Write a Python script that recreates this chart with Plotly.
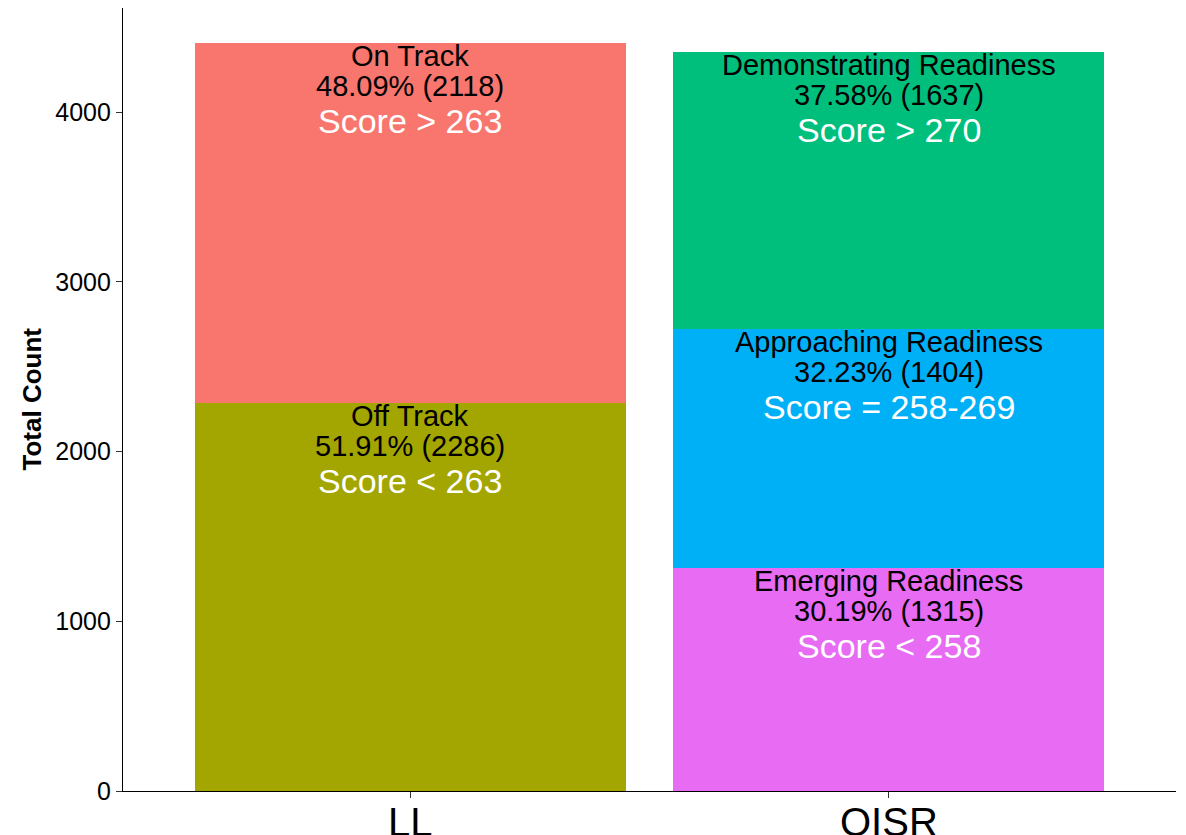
import plotly.graph_objects as go

# Data
groups = ["LL", "LL", "OISR", "OISR", "OISR"]
levels = ["Off Track", "On Track", "Emerging Readiness", "Approaching Readiness", "Demonstrating Readiness"]
counts = [2286, 2118, 1315, 1404, 1637]
score_labels = ["Score < 263", "Score > 263", "Score < 258", "Score = 258-269", "Score > 270"]
colors = ["#A3A500", "#F8766D", "#E76BF3", "#00B0F6", "#00BF7D"]
categories = ["LL", "OISR"]
y_ticks = [0, 1000, 2000, 3000, 4000]

FONT = "Liberation Sans, Arial, sans-serif"

fig = go.Figure()
for g, lvl, c, col in zip(groups, levels, counts, colors):
    fig.add_trace(go.Bar(x=[g], y=[c], name=lvl, marker=dict(color=col, line=dict(width=0)),
                         width=0.9, showlegend=False, hoverinfo="x+y+name"))

totals = {cat: sum(c for g, c in zip(groups, counts) if g == cat) for cat in categories}
cum = {cat: 0 for cat in categories}
annotations = []
for g, lvl, c, sc in zip(groups, levels, counts, score_labels):
    cum[g] += c
    top = cum[g]
    pct = 100 * c / totals[g]
    annotations.append(dict(x=g, y=top, xref="x", yref="y", text=lvl, showarrow=False,
                            yanchor="middle", yshift=-13, font=dict(family=FONT, size=29, color="black")))
    annotations.append(dict(x=g, y=top, xref="x", yref="y", text=f"{pct:.2f}% ({c})", showarrow=False,
                            yanchor="middle", yshift=-43, font=dict(family=FONT, size=29, color="black")))
    annotations.append(dict(x=g, y=top, xref="x", yref="y", text=sc, showarrow=False,
                            yanchor="middle", yshift=-78, font=dict(family=FONT, size=34, color="white")))

# category labels under the x axis
for cat in categories:
    annotations.append(dict(x=cat, y=0, xref="x", yref="paper", text=cat, showarrow=False,
                            yanchor="middle", xanchor="center", yshift=-31,
                            font=dict(family=FONT, size=40, color="black")))

annotations.append(dict(x=0, y=0.5, xref="paper", yref="paper", text="<b>Total Count</b>",
                        showarrow=False, textangle=-90, xanchor="center", yanchor="middle",
                        xshift=-92, font=dict(family=FONT, size=26, color="black")))

fig.update_layout(
    barmode="stack",
    width=1170, height=827,
    margin=dict(l=115, r=2, t=0, b=44, pad=0),
    paper_bgcolor="white", plot_bgcolor="white",
    annotations=annotations,
    font=dict(family=FONT, color="black"),
)
fig.update_xaxes(
    type="category", categoryorder="array", categoryarray=categories,
    range=[-0.6, 1.6], showline=True, linecolor="black", linewidth=1.2,
    ticks="outside", ticklen=6, tickcolor="#333333", tickwidth=1.2,
    showticklabels=False, showgrid=False, zeroline=False,
    automargin=False,
)
fig.update_yaxes(
    range=[0, 4613], tickvals=y_ticks, showline=True, linecolor="black", linewidth=1.2,
    ticks="outside", ticklen=6, tickcolor="#333333", tickwidth=1.2,
    tickfont=dict(family=FONT, size=25, color="black"), showgrid=False, zeroline=False,
    automargin=False,
)
fig.write_html("out.html")
